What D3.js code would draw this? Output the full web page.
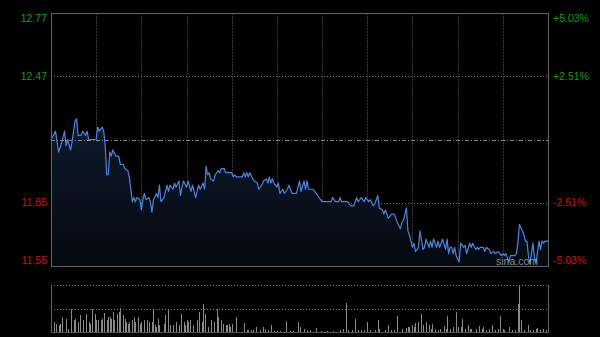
<!DOCTYPE html>
<html>
<head>
<meta charset="utf-8">
<script src="https://cdn.jsdelivr.net/npm/d3@7"></script>
<style>
  html, body { margin: 0; padding: 0; background: #000; }
  svg { display: block; }
  text { font-family: Arial, "Liberation Sans", sans-serif; }
</style>
</head>
<body>
<div id="chart"></div>
<script>
// intraday minute index (HK session, 0..330) and traded price
let minutes = [0,3,5,6,8,9,10,11,13,14,16,17,18,20,21,23,24,25,30,31,32,34,35,36,37,38,39,40,41,43,45,46,48,49,51,52,54,55,56,57,59,60,61,62,63,65,66,67,68,70,71,72,73,75,76,77,78,79,81,82,83,85,86,87,88,90,91,93,94,96,97,98,99,101,102,103,104,105,106,108,109,111,112,113,115,116,120,121,122,123,127,128,129,130,131,132,134,135,137,138,140,141,143,144,145,146,147,148,150,151,152,154,155,157,158,159,160,163,165,166,168,169,170,171,174,176,177,179,180,182,186,187,189,191,192,193,197,199,201,203,204,206,208,209,211,212,214,215,217,218,220,221,222,223,224,226,227,228,230,232,233,234,236,237,238,239,240,241,242,244,245,247,248,249,251,252,253,254,256,257,258,259,260,262,263,264,265,266,267,268,269,271,272,274,275,276,278,279,280,282,283,284,285,287,288,289,291,292,294,295,297,299,300,301,302,304,305,308,309,310,311,313,314,315,316,317,318,320,321,322,324,325,326,327,328,330];
let prices = [12.16,12.20,12.10,12.12,12.17,12.20,12.13,12.16,12.11,12.15,12.25,12.26,12.18,12.18,12.20,12.18,12.20,12.16,12.16,12.22,12.20,12.22,12.20,12.13,11.99,11.99,12.10,12.08,12.11,12.08,12.08,12.04,12.04,12.02,12.01,11.98,11.86,11.88,11.86,11.88,11.87,11.82,11.87,11.90,11.87,11.88,11.86,11.81,11.87,11.90,11.88,11.94,11.86,11.88,11.91,11.94,11.91,11.94,11.92,11.95,11.93,11.96,11.89,11.93,11.96,11.93,11.96,11.91,11.94,11.88,11.91,11.94,11.92,11.95,11.92,12.03,11.99,12.00,11.97,11.96,11.99,12.01,12.00,12.02,12.02,12.00,12.00,11.98,11.99,11.98,11.98,12.00,11.98,12.00,11.98,12.00,11.97,11.96,11.95,11.92,11.94,11.96,11.97,11.95,11.98,11.95,11.97,11.95,11.93,11.95,11.90,11.92,11.90,11.92,11.94,11.92,11.90,11.90,11.96,11.91,11.96,11.92,11.96,11.92,11.92,11.90,11.89,11.87,11.86,11.86,11.86,11.88,11.86,11.86,11.88,11.86,11.86,11.84,11.84,11.88,11.86,11.88,11.86,11.88,11.86,11.87,11.84,11.85,11.89,11.83,11.82,11.80,11.82,11.80,11.78,11.80,11.80,11.80,11.76,11.73,11.76,11.77,11.83,11.72,11.70,11.67,11.64,11.66,11.62,11.64,11.72,11.63,11.64,11.68,11.64,11.67,11.64,11.68,11.64,11.67,11.64,11.66,11.68,11.63,11.68,11.61,11.64,11.64,11.61,11.64,11.60,11.57,11.66,11.64,11.65,11.61,11.66,11.64,11.66,11.63,11.64,11.63,11.64,11.64,11.62,11.64,11.63,11.61,11.62,11.61,11.62,11.60,11.61,11.60,11.61,11.57,11.60,11.60,11.61,11.66,11.75,11.72,11.70,11.67,11.67,11.60,11.56,11.66,11.59,11.56,11.67,11.63,11.67,11.66,11.67,11.67];

// volume bars (minute index, volume in 10k shares)
let volMinutes = [2,3,5,6,7,10,11,13,15,16,18,19,21,23,25,26,27,29,30,31,33,34,35,37,38,39,40,41,42,44,45,46,48,49,50,51,52,54,55,56,58,59,60,62,64,65,67,68,69,70,71,72,75,76,78,79,81,83,85,86,88,89,90,91,92,94,97,98,100,101,102,104,106,108,110,111,113,114,116,117,118,119,120,123,128,130,131,133,134,136,139,141,142,144,146,148,150,152,156,159,161,164,165,168,170,172,176,179,183,187,192,194,196,197,200,202,204,206,208,210,212,215,217,218,222,224,226,228,230,233,236,237,238,240,241,242,244,246,247,249,251,252,253,255,257,258,261,262,263,265,267,269,270,272,273,275,277,278,279,282,284,286,287,289,291,293,295,297,298,300,301,304,306,308,310,311,312,314,317,318,320,322,323,325,327,329];
let volumes = [10,8,7,8,15,13,3,23,12,13,10,17,12,18,10,8,23,18,12,12,12,13,19,12,15,15,13,20,12,18,20,24,17,13,10,8,10,12,15,10,15,8,10,12,12,10,10,23,7,5,13,7,8,17,23,7,7,10,7,18,10,7,12,10,12,7,12,20,10,28,18,5,12,10,23,15,12,8,7,7,8,5,8,15,9,2,2,2,2,5,2,5,3,2,7,1,1,1,11,1,1,10,5,3,2,2,4,1,1,1,2,3,29,2,2,13,2,2,2,10,2,2,12,3,2,7,2,2,16,3,4,5,5,7,5,9,10,18,7,10,7,3,8,3,2,3,6,3,16,3,5,20,5,5,13,3,7,3,3,3,6,3,5,2,3,7,2,3,16,3,2,5,2,2,28,47,12,2,7,2,2,3,4,2,3,2];

let prevClose = 12.16;
let priceLabels = ["12.77", "12.47", "11.85", "11.55"];
let pctLabels = ["+5.03%", "+2.51%", "-2.51%", "-5.03%"];
let pctSteps = [0.0503, 0.0251, -0.0251, -0.0503];

let w = 600;
let h = 337;
let mLeft = 51, mRight = 548;
let mTop = 13, mBottom = 266;
let vTop = 285, vBottom = 332;

let svg = d3.select("#chart").append("svg")
  .attr("width", w)
  .attr("height", h)
;

let x = d3.scaleLinear().domain([0, 330]).range([mLeft, mRight]);
let y = d3.scaleLinear().domain([11.55, 12.77]).range([mBottom, mTop]);
let yv = d3.scaleLinear().domain([0, d3.max(volumes)]).range([vBottom, vTop]);

let grad = svg.append("defs").append("linearGradient")
  .attr("id", "fillgrad")
  .attr("x1", 0).attr("y1", 0).attr("x2", 0).attr("y2", 1)
;
grad.append("stop").attr("offset", "0%").attr("stop-color", "#0f1a2e");
grad.append("stop").attr("offset", "100%").attr("stop-color", "#06090f");

// vertical grid every 30 minutes
let gridMinutes = d3.range(30, 330, 30);
svg.selectAll(".vgrid").data(gridMinutes).enter()
  .append("line")
    .attr("class", "vgrid")
    .attr("x1", d => Math.round(x(d)) + 0.5)
    .attr("x2", d => Math.round(x(d)) + 0.5)
    .attr("y1", mTop)
    .attr("y2", mBottom)
    .attr("stroke", "#363636")
    .attr("stroke-dasharray", "2,1")
;

// horizontal dotted grid at +/-2.51%
let midSteps = [0.0251, -0.0251];
svg.selectAll(".hgrid").data(midSteps).enter()
  .append("line")
    .attr("class", "hgrid")
    .attr("x1", mLeft)
    .attr("x2", mRight)
    .attr("y1", d => Math.round(y(prevClose * (1 + d))) + 0.5)
    .attr("y2", d => Math.round(y(prevClose * (1 + d))) + 0.5)
    .attr("stroke", "#777")
    .attr("stroke-dasharray", "1,2")
;

let points = minutes.map((m, i) => [m, prices[i]]);

let area = d3.area()
  .x(d => x(d[0]))
  .y0(mBottom)
  .y1(d => y(d[1]))
;
svg.append("path")
  .datum(points)
  .attr("d", area)
  .attr("fill", "url(#fillgrad)")
;

// previous close line
svg.append("line")
  .attr("x1", mLeft)
  .attr("x2", mRight)
  .attr("y1", Math.round(y(prevClose)) + 0.5)
  .attr("y2", Math.round(y(prevClose)) + 0.5)
  .attr("stroke", "#888")
  .attr("stroke-dasharray", "4,2,1,2")
;

let line = d3.line()
  .x(d => x(d[0]))
  .y(d => y(d[1]))
;
svg.append("path")
  .datum(points)
  .attr("d", line)
  .attr("fill", "none")
  .attr("stroke", "#4a86e0")
  .attr("stroke-width", 1.2)
  .attr("stroke-linejoin", "round")
;

// frame
svg.append("rect")
  .attr("x", mLeft + 0.5)
  .attr("y", mTop + 0.5)
  .attr("width", mRight - mLeft)
  .attr("height", mBottom - mTop)
  .attr("fill", "none")
  .attr("stroke", "#666")
;

// price labels (left) and percent labels (right)
svg.selectAll(".plabel").data(pctSteps).enter()
  .append("text")
    .attr("class", "plabel")
    .attr("x", mLeft - 4)
    .attr("y", (d, i) => {
      let yy = y(prevClose * (1 + d));
      if (i == 0) yy += 6;
      if (i == 3) yy -= 6;
      return yy;
    })
    .attr("dy", "0.35em")
    .attr("text-anchor", "end")
    .attr("font-size", 10.5)
    .attr("fill", d => d > 0 ? "#11a011" : "#d01010")
    .text((d, i) => priceLabels[i])
;
svg.selectAll(".pctlabel").data(pctSteps).enter()
  .append("text")
    .attr("class", "pctlabel")
    .attr("x", mRight + 5)
    .attr("y", (d, i) => {
      let yy = y(prevClose * (1 + d));
      if (i == 0) yy += 6;
      if (i == 3) yy -= 6;
      return yy;
    })
    .attr("dy", "0.35em")
    .attr("text-anchor", "start")
    .attr("font-size", 10.5)
    .attr("fill", d => d > 0 ? "#11a011" : "#d01010")
    .text((d, i) => pctLabels[i])
;

// watermark
svg.append("text")
  .attr("x", 517)
  .attr("y", 265)
  .attr("text-anchor", "middle")
  .attr("font-size", 10.5)
  .attr("fill", "#aaa")
  .attr("fill-opacity", 0.8)
  .text("sina.com")
;

// volume panel
let vols = volMinutes.map((m, i) => [m, volumes[i]]);
svg.selectAll(".vbar").data(vols).enter()
  .append("line")
    .attr("class", "vbar")
    .attr("x1", d => Math.round(x(d[0])) + 0.5)
    .attr("x2", d => Math.round(x(d[0])) + 0.5)
    .attr("y1", vBottom)
    .attr("y2", d => yv(d[1]))
    .attr("stroke", "#8a8a8a")
;

let vGrid = [vTop, (vTop + vBottom) / 2];
svg.selectAll(".vhgrid").data(vGrid).enter()
  .append("line")
    .attr("class", "vhgrid")
    .attr("x1", mLeft)
    .attr("x2", mRight)
    .attr("y1", d => Math.round(d) + 0.5)
    .attr("y2", d => Math.round(d) + 0.5)
    .attr("stroke", "#777")
    .attr("stroke-dasharray", "1,2")
;
svg.append("line")
  .attr("x1", mLeft + 0.5).attr("x2", mLeft + 0.5)
  .attr("y1", vTop).attr("y2", vBottom)
  .attr("stroke", "#666")
;
svg.append("line")
  .attr("x1", mRight + 0.5).attr("x2", mRight + 0.5)
  .attr("y1", vTop).attr("y2", vBottom)
  .attr("stroke", "#666")
;
svg.append("line")
  .attr("x1", mLeft).attr("x2", mRight + 1)
  .attr("y1", vBottom + 0.5).attr("y2", vBottom + 0.5)
  .attr("stroke", "#555")
;
</script>
</body>
</html>
